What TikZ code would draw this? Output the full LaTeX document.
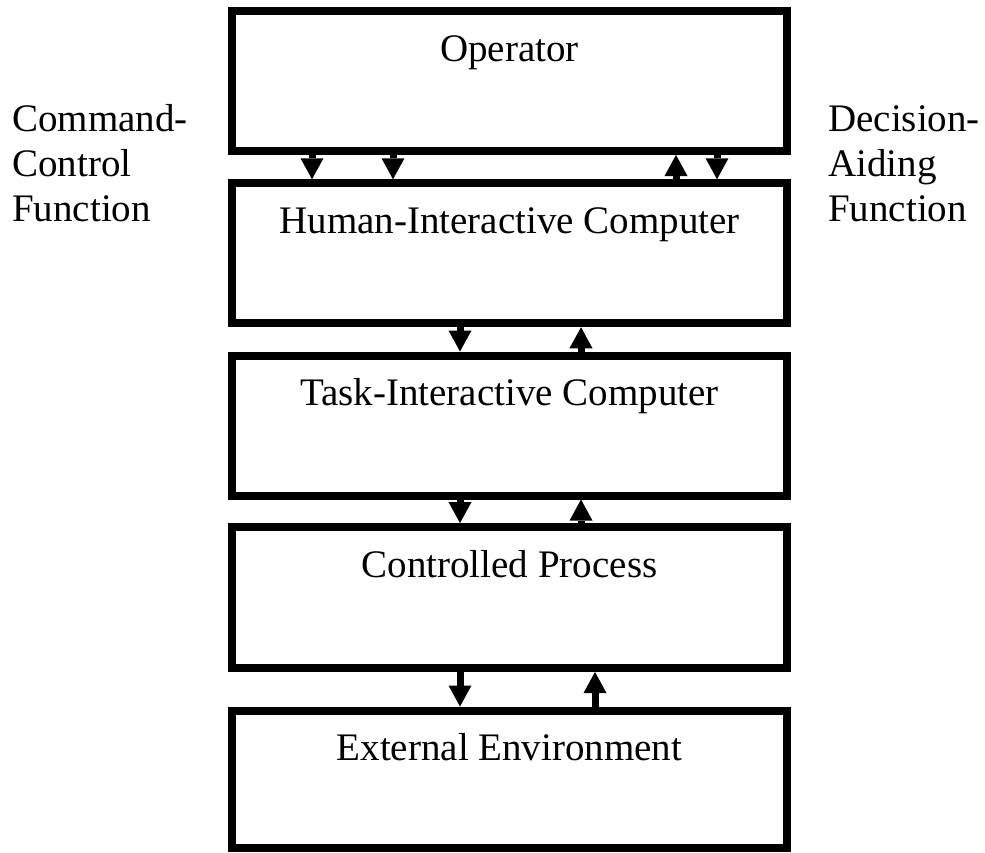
\documentclass[tikz,border=0pt]{standalone}
\usepackage{fontspec}
\setmainfont{Liberation Serif}
\usetikzlibrary{arrows.meta}
\begin{document}
\begin{tikzpicture}[x=1pt,y=-1pt,
  layerbox/.style={draw, line width=8pt, minimum width=555pt, inner sep=0pt},
  title/.style={font=\fontsize{39}{45.5}\selectfont, anchor=base, inner sep=0pt},
  side/.style={font=\fontsize{39}{45}\selectfont, anchor=base west, inner sep=0pt},
  flow/.style={line width=7pt, -{Triangle[width=23pt,length=21pt,line width=0pt]}}]
\useasboundingbox (0,0) rectangle (985,852);

% the five layers, top to bottom
\node[layerbox, minimum height=140pt]   (op)  at (509.5,81)    {};
\node[layerbox, minimum height=140pt]   (hic) at (509.5,253.25) {};
\node[layerbox, minimum height=140pt]   (tic) at (509.5,425.5) {};
\node[layerbox, minimum height=141pt]   (cp)  at (509.5,597.5) {};
\node[layerbox, minimum height=137.5pt] (ee)  at (509.5,779.25) {};

% layer titles near the top edge of each box
\node[title] (opt)  at ([yshift=-54pt]op.north)  {Operator};
\node[title] (hict) at ([yshift=-54pt]hic.north) {Human-Interactive Computer};
\node[title] (tict) at ([yshift=-54pt]tic.north) {Task-Interactive Computer};
\node[title] (cpt)  at ([yshift=-54pt]cp.north)  {Controlled Process};
\node[title] (eet)  at ([yshift=-54pt]ee.north)  {External Environment};

% side labels
\node[side] (cmd) at (12,131) {\begin{tabular}[t]{@{}l@{}}Command-\\Control\\Function\end{tabular}};
\node[side] (dec) at (828,131) {\begin{tabular}[t]{@{}l@{}}Decision-\\Aiding\\Function\end{tabular}};

% operator <-> human-interactive computer
\draw[flow] (op.south -| 312,0) -- (hic.north -| 312,0);
\draw[flow] (op.south -| 393,0) -- (hic.north -| 393,0);
\draw[flow] (hic.north -| 676,0) -- (op.south -| 676,0);
\draw[flow] (op.south -| 717,0) -- (hic.north -| 717,0);

% human-interactive <-> task-interactive computer
\draw[flow] (hic.south -| 460,0) -- (tic.north -| 460,0);
\draw[flow] (tic.north -| 581,0) -- (hic.south -| 581,0);

% task-interactive computer <-> controlled process
\draw[flow] (tic.south -| 460,0) -- (cp.north -| 460,0);
\draw[flow] (cp.north -| 581,0) -- (tic.south -| 581,0);

% controlled process <-> external environment
\draw[flow] (cp.south -| 460,0) -- (ee.north -| 460,0);
\draw[flow] (ee.north -| 595,0) -- (cp.south -| 595,0);
\end{tikzpicture}
\end{document}
